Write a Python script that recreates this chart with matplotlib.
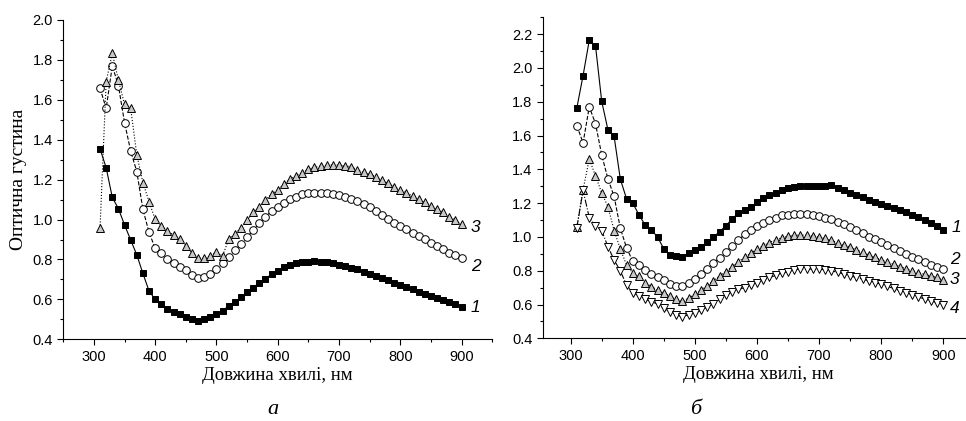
import matplotlib.pyplot as plt
from matplotlib.ticker import MultipleLocator, FormatStrFormatter

# wavelength, nm (310..900 step 10)
wl = list(range(310, 901, 10))

# panel a
a1 = [1.354, 1.260, 1.111, 1.055, 0.973, 0.898, 0.823, 0.730, 0.642, 0.600,
      0.577, 0.552, 0.539, 0.525, 0.514, 0.502, 0.494, 0.500, 0.510, 0.525,
      0.544, 0.567, 0.589, 0.610, 0.636, 0.659, 0.684, 0.704, 0.726, 0.744,
      0.760, 0.772, 0.780, 0.785, 0.789, 0.790, 0.789, 0.785, 0.780, 0.772,
      0.766, 0.759, 0.750, 0.739, 0.729, 0.717, 0.707, 0.696, 0.684, 0.672,
      0.661, 0.651, 0.639, 0.627, 0.617, 0.609, 0.599, 0.585, 0.575, 0.564]
a2 = [1.658, 1.557, 1.770, 1.671, 1.486, 1.344, 1.240, 1.051, 0.936, 0.856,
      0.831, 0.804, 0.782, 0.764, 0.747, 0.722, 0.709, 0.712, 0.727, 0.751,
      0.781, 0.811, 0.848, 0.876, 0.911, 0.948, 0.981, 1.015, 1.041, 1.065,
      1.085, 1.101, 1.115, 1.127, 1.132, 1.135, 1.135, 1.135, 1.128, 1.121,
      1.113, 1.105, 1.091, 1.076, 1.061, 1.043, 1.021, 1.001, 0.985, 0.968,
      0.951, 0.934, 0.918, 0.901, 0.884, 0.868, 0.851, 0.831, 0.823, 0.809]
a3 = [0.956, 1.691, 1.833, 1.699, 1.577, 1.557, 1.324, 1.185, 1.090, 1.001,
      0.968, 0.943, 0.923, 0.901, 0.868, 0.831, 0.806, 0.806, 0.818, 0.838,
      0.818, 0.901, 0.926, 0.959, 0.998, 1.036, 1.065, 1.098, 1.128, 1.148,
      1.178, 1.202, 1.220, 1.235, 1.252, 1.262, 1.268, 1.272, 1.275, 1.272,
      1.270, 1.265, 1.248, 1.237, 1.228, 1.215, 1.198, 1.182, 1.165, 1.148,
      1.135, 1.118, 1.101, 1.086, 1.070, 1.053, 1.036, 1.015, 0.998, 0.976]

# panel b
b1 = [1.764, 1.955, 2.164, 2.133, 1.803, 1.635, 1.595, 1.342, 1.226, 1.200,
      1.131, 1.070, 1.042, 0.999, 0.930, 0.894, 0.888, 0.884, 0.904, 0.924,
      0.943, 0.969, 0.999, 1.032, 1.066, 1.107, 1.141, 1.157, 1.176, 1.206,
      1.232, 1.250, 1.263, 1.277, 1.289, 1.295, 1.299, 1.301, 1.303, 1.303,
      1.299, 1.307, 1.289, 1.277, 1.263, 1.250, 1.236, 1.220, 1.208, 1.196,
      1.182, 1.169, 1.157, 1.145, 1.131, 1.117, 1.101, 1.082, 1.062, 1.042]
b2 = a2
b3 = [1.058, 1.280, 1.461, 1.362, 1.260, 1.180, 1.038, 0.928, 0.835, 0.786,
      0.766, 0.730, 0.706, 0.686, 0.667, 0.651, 0.631, 0.621, 0.637, 0.661,
      0.686, 0.710, 0.742, 0.769, 0.795, 0.825, 0.854, 0.880, 0.904, 0.928,
      0.947, 0.967, 0.983, 0.995, 1.003, 1.009, 1.011, 1.011, 1.007, 0.999,
      0.991, 0.979, 0.967, 0.953, 0.940, 0.924, 0.908, 0.894, 0.880, 0.864,
      0.850, 0.839, 0.825, 0.811, 0.801, 0.789, 0.779, 0.769, 0.760, 0.746]
b4 = [1.055, 1.275, 1.115, 1.066, 1.038, 0.943, 0.864, 0.799, 0.716, 0.671,
      0.651, 0.631, 0.617, 0.603, 0.578, 0.558, 0.538, 0.528, 0.540, 0.550,
      0.565, 0.585, 0.605, 0.630, 0.655, 0.675, 0.690, 0.700, 0.715, 0.730,
      0.745, 0.760, 0.772, 0.785, 0.795, 0.805, 0.810, 0.810, 0.810, 0.810,
      0.805, 0.800, 0.790, 0.780, 0.770, 0.760, 0.750, 0.740, 0.730, 0.720,
      0.708, 0.695, 0.683, 0.670, 0.658, 0.645, 0.633, 0.622, 0.611, 0.600]

sans = 'Liberation Sans'
serif = 'Liberation Serif'

styles = {
    1: dict(marker='s', ls='-', mfc='black', ms=5),
    2: dict(marker='o', ls='--', mfc='white', ms=5.5),
    3: dict(marker='^', ls=':', mfc='#c8c8c8', ms=5.5),
    4: dict(marker='v', ls='-.', mfc='white', ms=5.5),
}

fig = plt.figure(figsize=(9.66, 4.21), dpi=100)
axA = fig.add_axes([0.0655, 0.194, 0.444, 0.7585])
axB = fig.add_axes([0.5618, 0.1964, 0.4468, 0.7625])


def plot_series(ax, y, n):
    st = styles[n]
    ax.plot(wl, y, color='black', lw=0.8, ls=st['ls'], marker=st['marker'],
            ms=st['ms'], mfc=st['mfc'], mec='black', mew=0.7)


for y, n in [(a1, 1), (a2, 2), (a3, 3)]:
    plot_series(axA, y, n)
for y, n in [(b1, 1), (b2, 2), (b3, 3), (b4, 4)]:
    plot_series(axB, y, n)

axA.set_xlim(250, 950)
axA.set_ylim(0.4, 2.0)
axB.set_xlim(255, 950)
axB.set_ylim(0.4, 2.3)

for ax in (axA, axB):
    for s in ('top', 'right'):
        ax.spines[s].set_visible(False)
    ax.xaxis.set_major_locator(MultipleLocator(100))
    ax.xaxis.set_minor_locator(MultipleLocator(50))
    ax.yaxis.set_major_locator(MultipleLocator(0.2))
    ax.yaxis.set_minor_locator(MultipleLocator(0.1))
    ax.yaxis.set_major_formatter(FormatStrFormatter('%.1f'))
    ax.tick_params(which='major', direction='out', length=4, width=0.8, labelsize=10.5)
    ax.tick_params(which='minor', direction='out', length=2.5, width=0.8)
    for lab in ax.get_xticklabels() + ax.get_yticklabels():
        lab.set_family(sans)
    ax.set_xlabel('Довжина хвилі, нм', family=serif, fontsize=13.5, labelpad=2)

axA.set_ylabel('Оптична густина', family=serif, fontsize=14, labelpad=4)

# curve numbers
for x, y, t in [(923, 0.958, '3'), (923, 0.763, '2'), (923, 0.557, '1')]:
    axA.text(x, y, t, family=sans, style='italic', fontsize=12.5, ha='center', va='center')
for x, y, t in [(921, 1.058, '1'), (918, 0.869, '2'), (918, 0.75, '3'), (918, 0.578, '4')]:
    axB.text(x, y, t, family=sans, style='italic', fontsize=12.5, ha='center', va='center')

fig.text(272.7 / 966, 1 - 409 / 421, 'а', family=serif, style='italic', fontsize=16, ha='center', va='center')
fig.text(696 / 966, 1 - 409 / 421, 'б', family=serif, style='italic', fontsize=16, ha='center', va='center')

fig.savefig('out.png', dpi=100)
